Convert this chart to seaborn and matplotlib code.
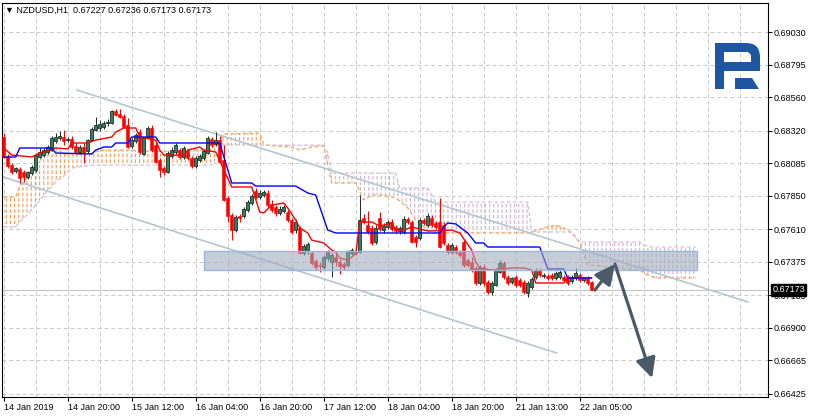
import numpy as np
import pandas as pd
import matplotlib
matplotlib.use("Agg")
import matplotlib.pyplot as plt
import seaborn as sns
from matplotlib.patches import Rectangle, PathPatch, Polygon
from matplotlib.path import Path
from matplotlib.transforms import IdentityTransform

# ---------------- data ----------------
symbol = "NZDUSD,H1"

opens = [0.68274, 0.68137, 0.68072, 0.68029, 0.68044, 0.68022, 0.67986, 0.68015, 0.68036, 0.68130,
         0.68144, 0.68166, 0.68180, 0.68245, 0.68267, 0.68274, 0.68252, 0.68260, 0.68209, 0.68166,
         0.68202, 0.68173, 0.68252, 0.68324, 0.68339, 0.68346, 0.68375, 0.68375, 0.68461, 0.68440,
         0.68425, 0.68360, 0.68209, 0.68245, 0.68310, 0.68152, 0.68267, 0.68339, 0.68216, 0.68108,
         0.68051, 0.68022, 0.68137, 0.68166, 0.68180, 0.68130, 0.68173, 0.68123, 0.68065, 0.68108,
         0.68123, 0.68159, 0.68260, 0.68224, 0.68252, 0.68108, 0.67835, 0.67712, 0.67604, 0.67705,
         0.67705, 0.67748, 0.67799, 0.67885, 0.67842, 0.67856, 0.67871, 0.67792, 0.67770, 0.67727,
         0.67741, 0.67734, 0.67676, 0.67604, 0.67619, 0.67439, 0.67453, 0.67439, 0.67381, 0.67352,
         0.67338, 0.67403, 0.67374, 0.67410, 0.67374, 0.67360, 0.67352, 0.67439, 0.67453, 0.67446,
         0.67691, 0.67640, 0.67619, 0.67518, 0.67691, 0.67604, 0.67626, 0.67662, 0.67626, 0.67597,
         0.67590, 0.67684, 0.67662, 0.67554, 0.67547, 0.67676, 0.67640, 0.67691, 0.67655, 0.67662,
         0.67640, 0.67496, 0.67446, 0.67482, 0.67446, 0.67518, 0.67388, 0.67374, 0.67331, 0.67223,
         0.67338, 0.67230, 0.67158, 0.67208, 0.67302, 0.67367, 0.67266, 0.67230, 0.67266, 0.67244,
         0.67230, 0.67151, 0.67194, 0.67266, 0.67316, 0.67273, 0.67273, 0.67280, 0.67259, 0.67266,
         0.67266, 0.67266, 0.67237, 0.67259, 0.67280, 0.67244, 0.67259, 0.67227]

closes = [0.68130, 0.68065, 0.68022, 0.68051, 0.67979, 0.67986, 0.68022, 0.68058, 0.68144, 0.68166,
          0.68180, 0.68202, 0.68267, 0.68274, 0.68281, 0.68245, 0.68260, 0.68202, 0.68166, 0.68202,
          0.68159, 0.68252, 0.68332, 0.68360, 0.68368, 0.68375, 0.68382, 0.68461, 0.68432, 0.68418,
          0.68346, 0.68202, 0.68252, 0.68288, 0.68166, 0.68267, 0.68339, 0.68180, 0.68094, 0.68036,
          0.68022, 0.68159, 0.68180, 0.68216, 0.68130, 0.68195, 0.68123, 0.68065, 0.68123, 0.68137,
          0.68173, 0.68267, 0.68216, 0.68252, 0.68094, 0.67820, 0.67705, 0.67604, 0.67698, 0.67691,
          0.67756, 0.67806, 0.67849, 0.67842, 0.67871, 0.67878, 0.67784, 0.67748, 0.67727, 0.67756,
          0.67770, 0.67676, 0.67590, 0.67662, 0.67439, 0.67489, 0.67504, 0.67367, 0.67338, 0.67345,
          0.67410, 0.67446, 0.67424, 0.67374, 0.67345, 0.67338, 0.67446, 0.67460, 0.67439, 0.67676,
          0.67662, 0.67590, 0.67511, 0.67619, 0.67612, 0.67633, 0.67662, 0.67612, 0.67597, 0.67619,
          0.67684, 0.67662, 0.67518, 0.67518, 0.67676, 0.67655, 0.67705, 0.67640, 0.67626, 0.67482,
          0.67511, 0.67446, 0.67496, 0.67446, 0.67424, 0.67352, 0.67352, 0.67316, 0.67223, 0.67331,
          0.67223, 0.67158, 0.67223, 0.67316, 0.67367, 0.67266, 0.67223, 0.67259, 0.67208, 0.67208,
          0.67158, 0.67223, 0.67252, 0.67316, 0.67280, 0.67280, 0.67259, 0.67259, 0.67295, 0.67302,
          0.67244, 0.67223, 0.67266, 0.67295, 0.67244, 0.67259, 0.67223, 0.67173]

highs = [0.68303, 0.68152, 0.68087, 0.68058, 0.68058, 0.68036, 0.68029, 0.68072, 0.68159, 0.68195,
         0.68195, 0.68216, 0.68281, 0.68303, 0.68317, 0.68324, 0.68274, 0.68281, 0.68231, 0.68216,
         0.68231, 0.68260, 0.68346, 0.68418, 0.68396, 0.68389, 0.68404, 0.68468, 0.68476, 0.68476,
         0.68440, 0.68411, 0.68267, 0.68303, 0.68332, 0.68274, 0.68353, 0.68360, 0.68252, 0.68123,
         0.68065, 0.68173, 0.68202, 0.68231, 0.68195, 0.68209, 0.68188, 0.68137, 0.68137, 0.68152,
         0.68188, 0.68281, 0.68274, 0.68310, 0.68281, 0.68216, 0.67849, 0.67727, 0.67712, 0.67720,
         0.67770, 0.67820, 0.67864, 0.67907, 0.67892, 0.67892, 0.67892, 0.67820, 0.67784, 0.67777,
         0.67784, 0.67748, 0.67691, 0.67684, 0.67633, 0.67504, 0.67518, 0.67453, 0.67396, 0.67374,
         0.67424, 0.67460, 0.67439, 0.67446, 0.67396, 0.67374, 0.67460, 0.67475, 0.67468, 0.67856,
         0.67720, 0.67741, 0.67640, 0.67640, 0.67734, 0.67655, 0.67676, 0.67684, 0.67640, 0.67633,
         0.67705, 0.67698, 0.67676, 0.67568, 0.67691, 0.67691, 0.67727, 0.67712, 0.67669, 0.67835,
         0.67662, 0.67511, 0.67511, 0.67496, 0.67460, 0.67532, 0.67403, 0.67410, 0.67345, 0.67352,
         0.67360, 0.67244, 0.67237, 0.67331, 0.67388, 0.67381, 0.67280, 0.67266, 0.67280, 0.67259,
         0.67244, 0.67237, 0.67266, 0.67331, 0.67331, 0.67295, 0.67288, 0.67295, 0.67309, 0.67316,
         0.67280, 0.67280, 0.67280, 0.67331, 0.67295, 0.67266, 0.67273, 0.67236]

lows = [0.68123, 0.68051, 0.68008, 0.68015, 0.67943, 0.67950, 0.67972, 0.68000, 0.68022, 0.68123,
        0.68130, 0.68152, 0.68173, 0.68231, 0.68252, 0.68216, 0.68238, 0.68188, 0.68152, 0.68152,
        0.68087, 0.68159, 0.68245, 0.68317, 0.68317, 0.68332, 0.68353, 0.68368, 0.68425, 0.68411,
        0.68339, 0.68195, 0.68195, 0.68231, 0.68152, 0.68144, 0.68260, 0.68166, 0.68087, 0.67986,
        0.68000, 0.68015, 0.68123, 0.68152, 0.68116, 0.68116, 0.68108, 0.68051, 0.68051, 0.68094,
        0.68108, 0.68152, 0.68202, 0.68209, 0.68087, 0.67813, 0.67662, 0.67532, 0.67590, 0.67662,
        0.67691, 0.67734, 0.67784, 0.67828, 0.67828, 0.67842, 0.67770, 0.67734, 0.67705, 0.67712,
        0.67727, 0.67662, 0.67576, 0.67583, 0.67432, 0.67424, 0.67432, 0.67352, 0.67316, 0.67302,
        0.67324, 0.67381, 0.67266, 0.67345, 0.67288, 0.67316, 0.67338, 0.67424, 0.67424, 0.67439,
        0.67648, 0.67576, 0.67496, 0.67504, 0.67597, 0.67583, 0.67612, 0.67597, 0.67583, 0.67576,
        0.67576, 0.67648, 0.67511, 0.67482, 0.67532, 0.67640, 0.67626, 0.67626, 0.67612, 0.67475,
        0.67496, 0.67432, 0.67432, 0.67432, 0.67410, 0.67338, 0.67338, 0.67302, 0.67208, 0.67208,
        0.67201, 0.67144, 0.67136, 0.67201, 0.67295, 0.67252, 0.67208, 0.67216, 0.67194, 0.67194,
        0.67144, 0.67122, 0.67180, 0.67252, 0.67266, 0.67259, 0.67244, 0.67244, 0.67244, 0.67252,
        0.67230, 0.67208, 0.67223, 0.67244, 0.67230, 0.67230, 0.67208, 0.67173]

time_label_bars = [0, 16, 32, 48, 64, 80, 96, 112, 128, 144]
time_labels = ["14 Jan 2019", "14 Jan 20:00", "15 Jan 12:00", "16 Jan 04:00", "16 Jan 20:00",
               "17 Jan 12:00", "18 Jan 04:00", "18 Jan 20:00", "21 Jan 13:00", "22 Jan 05:00"]

price_ticks = [0.69030, 0.68795, 0.68560, 0.68320, 0.68085, 0.67850,
               0.67610, 0.67375, 0.67135, 0.66900, 0.66665, 0.66425]
price_tick_labels = ["0.69030", "0.68795", "0.68560", "0.68320", "0.68085", "0.67850",
                     "0.67610", "0.67375", "0.67135", "0.66900", "0.66665", "0.66425"]

# Ichimoku: Tenkan-sen (red) and Kijun-sen (blue) vertices
tenkan_bars = [0, 2, 7, 9, 13, 16, 17, 21, 23, 27, 28, 30, 33, 34, 38, 39, 40, 45, 46, 49,
               50, 53, 57, 62, 64, 65, 67, 70, 71, 73, 74, 76, 77, 80, 82, 83, 84, 86, 88, 89,
               92, 94, 97, 98, 100, 102, 106, 112, 114, 117, 118, 119, 122, 127, 130, 132, 133, 140, 141, 147]
tenkan_vals = [0.68195, 0.68144, 0.68130, 0.68159, 0.68195, 0.68188, 0.68231, 0.68231, 0.68252, 0.68274,
               0.68310, 0.68339, 0.68339, 0.68274, 0.68252, 0.68180, 0.68144, 0.68144, 0.68180, 0.68202,
               0.68180, 0.68166, 0.67914, 0.67914, 0.67734, 0.67727, 0.67784, 0.67799, 0.67763, 0.67676,
               0.67619, 0.67583, 0.67532, 0.67511, 0.67460, 0.67446, 0.67403, 0.67388, 0.67432, 0.67662,
               0.67662, 0.67633, 0.67655, 0.67604, 0.67604, 0.67626, 0.67597, 0.67604, 0.67583, 0.67460,
               0.67374, 0.67331, 0.67316, 0.67331, 0.67331, 0.67316, 0.67223, 0.67223, 0.67259, 0.67259]

kijun_bars = [0, 3, 4, 12, 13, 22, 23, 25, 27, 28, 31, 32, 38, 39, 54, 57, 62, 63, 73, 76,
              78, 81, 83, 109, 110, 111, 113, 116, 118, 120, 121, 134, 136, 140, 141, 147]
kijun_vals = [0.68130, 0.68130, 0.68195, 0.68195, 0.68159, 0.68152, 0.68180, 0.68202, 0.68202, 0.68231,
              0.68231, 0.68274, 0.68274, 0.68231, 0.68231, 0.67943, 0.67943, 0.67921, 0.67921, 0.67871,
              0.67856, 0.67604, 0.67583, 0.67583, 0.67626, 0.67655, 0.67648, 0.67583, 0.67511, 0.67511,
              0.67482, 0.67482, 0.67324, 0.67324, 0.67259, 0.67259]

# Senkou span A (sandy brown) and B (thistle), shifted 26 bars ahead
cloud_bars = [0, 3, 4, 7, 10, 13, 15, 17, 22, 24, 30, 43, 45, 49, 52, 54, 55, 64, 65, 72,
              74, 77, 80, 81, 82, 88, 90, 92, 95, 98, 99, 101, 103, 106, 108, 117, 131, 132, 135, 138,
              140, 142, 144, 146, 159, 161, 163, 173]
span_a = [0.67842, 0.67842, 0.67921, 0.68022, 0.68144, 0.68195, 0.68152, 0.68152, 0.68152, 0.68180,
          0.68180, 0.68166, 0.68188, 0.68180, 0.68188, 0.68252, 0.68296, 0.68303, 0.68216, 0.68202,
          0.68180, 0.68202, 0.68209, 0.68072, 0.67943, 0.67943, 0.67820, 0.67856, 0.67856, 0.67835,
          0.67813, 0.67763, 0.67676, 0.67604, 0.67583, 0.67583, 0.67583, 0.67590, 0.67619, 0.67640,
          0.67619, 0.67583, 0.67511, 0.67352, 0.67316, 0.67280, 0.67259, 0.67259]
span_b = [0.67626, 0.67626, 0.67662, 0.67748, 0.67856, 0.67950, 0.67993, 0.68051, 0.68072, 0.68072,
          0.68072, 0.68072, 0.68072, 0.68072, 0.68072, 0.68166, 0.68216, 0.68216, 0.68216, 0.68216,
          0.68216, 0.68216, 0.68216, 0.68166, 0.68015, 0.68015, 0.68015, 0.68015, 0.68015, 0.68015,
          0.67907, 0.67907, 0.67907, 0.67907, 0.67806, 0.67806, 0.67806, 0.67590, 0.67590, 0.67590,
          0.67590, 0.67590, 0.67518, 0.67518, 0.67518, 0.67482, 0.67482, 0.67482]

# drawn objects
channel_upper_bars = [18.3, 186.1]
channel_upper_prices = [0.68612, 0.67086]
channel_lower_bars = [-0.9, 138.3]
channel_lower_prices = [0.67993, 0.66718]
zone_bars = [50.1, 173.3]
zone_prices = [0.67316, 0.67453]
forecast_bars = [147.8, 152.8, 162.1]
forecast_prices = [0.67172, 0.67359, 0.66538]
last_price = closes[-1]

# ---------------- figure ----------------
W, H = 815, 418
sns.set_style("white")
plt.rcParams["font.family"] = ["Liberation Sans", "DejaVu Sans"]
FS = 6.5

fig = plt.figure(figsize=(W / 100, H / 100), dpi=100)
fig.patch.set_facecolor("white")
ax = fig.add_axes([2 / W, 21 / H, 766 / W, 394 / H])
ax.set_facecolor("white")
ax.set_xlim(-0.43, 191.07)
ax.set_ylim(0.66402, 0.69239)

# grid
grid_kw = dict(color="#c9c9c9", lw=0.7, ls=(0, (4, 3)))
ax.set_xticks(time_label_bars)
ax.set_xticklabels(time_labels, fontsize=FS)
for t in ax.get_xticklabels():
    t.set_ha("left")
ax.set_xticks(np.arange(0, 192, 8), minor=True)
ax.set_yticks(price_ticks)
ax.set_yticklabels(price_tick_labels, fontsize=FS)
ax.yaxis.tick_right()
ax.grid(which="both", axis="x", **grid_kw)
ax.grid(which="major", axis="y", **grid_kw)
ax.set_axisbelow(True)
ax.tick_params(axis="x", which="major", length=3, width=0.7, pad=1.5, colors="black", bottom=True)
ax.tick_params(axis="x", which="minor", length=0)
ax.tick_params(axis="y", which="major", length=3, width=0.7, pad=1.2, colors="black", right=True, left=False)
for s in ax.spines.values():
    s.set_color("black")
    s.set_linewidth(0.8)

# Ichimoku cloud
cb = np.array(cloud_bars, dtype=float)
A = np.array(span_a)
B = np.array(span_b)
fa = ax.fill_between(cb, A, B, where=A >= B, interpolate=True, facecolor="none",
                     edgecolor="#f2a062", hatch="||||", linewidth=0, zorder=1)
fb = ax.fill_between(cb, A, B, where=A < B, interpolate=True, facecolor="none",
                     edgecolor="#d3b6d3", hatch="||||", linewidth=0, zorder=1)
fw = ax.fill_between(cb, A, B, facecolor="none", edgecolor="white", hatch="---",
                     linewidth=0, zorder=1.1)
for art, hw in ((fa, 0.85), (fb, 0.85), (fw, 1.4)):
    if hasattr(art, "set_hatch_linewidth"):
        art.set_hatch_linewidth(hw)
ax.plot(cb, A, color="#f4a460", lw=0.9, ls=(0, (3, 2)), zorder=1.5)
ax.plot(cb, B, color="#d8bfd8", lw=0.9, ls=(0, (3, 2)), zorder=1.5)

# current price line
ax.axhline(last_price, color="#c4c4c4", lw=0.8, zorder=1.6)

# channel
ax.plot(channel_upper_bars, channel_upper_prices, color="#b3c6d4", lw=1.2, zorder=2.5)
ax.plot(channel_lower_bars, channel_lower_prices, color="#b3c6d4", lw=1.2, zorder=2.5)

# candles
o = np.array(opens); c = np.array(closes); h = np.array(highs); l = np.array(lows)
idx = np.arange(len(o))
up = c >= o
ax.vlines(idx[up], l[up], h[up], color="#1e3028", lw=0.75, zorder=3)
ax.vlines(idx[~up], l[~up], h[~up], color="#ff0000", lw=0.75, zorder=3)
ax.bar(idx[up], (c - o)[up], bottom=o[up], width=0.74, color="#3a7d5d",
       edgecolor="#1e3028", linewidth=0.6, zorder=3.1)
ax.bar(idx[~up], (o - c)[~up], bottom=c[~up], width=0.74, color="#ff0000",
       edgecolor="#ff0000", linewidth=0.4, zorder=3.1)

# Tenkan / Kijun
sns.lineplot(x=tenkan_bars, y=tenkan_vals, color="#ff0000", lw=1.0, ax=ax,
             sort=False, estimator=None, zorder=3.5)
sns.lineplot(x=kijun_bars, y=kijun_vals, color="#0000ff", lw=1.0, ax=ax,
             sort=False, estimator=None, zorder=3.6)

# support/resistance zone
ax.add_patch(Rectangle((zone_bars[0], zone_prices[0]), zone_bars[1] - zone_bars[0],
                       zone_prices[1] - zone_prices[0],
                       facecolor=(158 / 255, 170 / 255, 185 / 255, 0.58),
                       edgecolor="#98b8e0", lw=1.0, zorder=4))

# forecast arrows
arrow_kw = dict(arrowstyle="-|>,head_length=0.6,head_width=0.3", lw=2.3,
                color="#4b5a67", shrinkA=0, shrinkB=0, mutation_scale=20)
ax.annotate("", xy=(forecast_bars[1], forecast_prices[1]),
            xytext=(forecast_bars[0], forecast_prices[0]), arrowprops=arrow_kw, zorder=5)
ax.annotate("", xy=(forecast_bars[2], forecast_prices[2]),
            xytext=(forecast_bars[1], forecast_prices[1]), arrowprops=arrow_kw, zorder=5)

# current price box
ax.annotate(f"{last_price:.5f}", xy=(1, last_price), xycoords=("axes fraction", "data"),
            xytext=(3.0, 0), textcoords="offset points", ha="left", va="center",
            fontsize=FS, color="white", annotation_clip=False, zorder=10,
            bbox=dict(boxstyle="square,pad=0.18", fc="black", ec="black"))

# title
fig.text(5 / W, 1 - 10 / H,
         f"\u25bc {symbol}  {opens[-1]:.5f} {highs[-1]:.5f} {lows[-1]:.5f} {closes[-1]:.5f}",
         fontsize=FS, ha="left", va="center", color="black")

# logo
def px(x, y):
    return (x, H - y)

outer = [px(715, 89), px(715, 43), px(746, 43), px(760, 43), px(760, 57),
         px(760, 71), px(724, 71), px(724, 89), px(715, 89)]
outer_codes = [Path.MOVETO, Path.LINETO, Path.LINETO, Path.CURVE3, Path.CURVE3,
               Path.LINETO, Path.LINETO, Path.LINETO, Path.CLOSEPOLY]
hole = [px(724, 52), px(724, 62), px(751, 62), px(751, 55), px(748, 52), px(724, 52)]
hole_codes = [Path.MOVETO, Path.LINETO, Path.LINETO, Path.LINETO, Path.LINETO, Path.CLOSEPOLY]
logo_path = Path(outer + hole, outer_codes + hole_codes)
fig.patches.append(PathPatch(logo_path, facecolor="#1f56a3", edgecolor="none",
                             transform=IdentityTransform(), figure=fig))
fig.patches.append(Polygon([px(735, 78), px(752, 78), px(759, 89), px(735, 89)],
                           closed=True, facecolor="#1f56a3", edgecolor="none",
                           transform=IdentityTransform(), figure=fig))

fig.savefig("out.png", dpi=100)
